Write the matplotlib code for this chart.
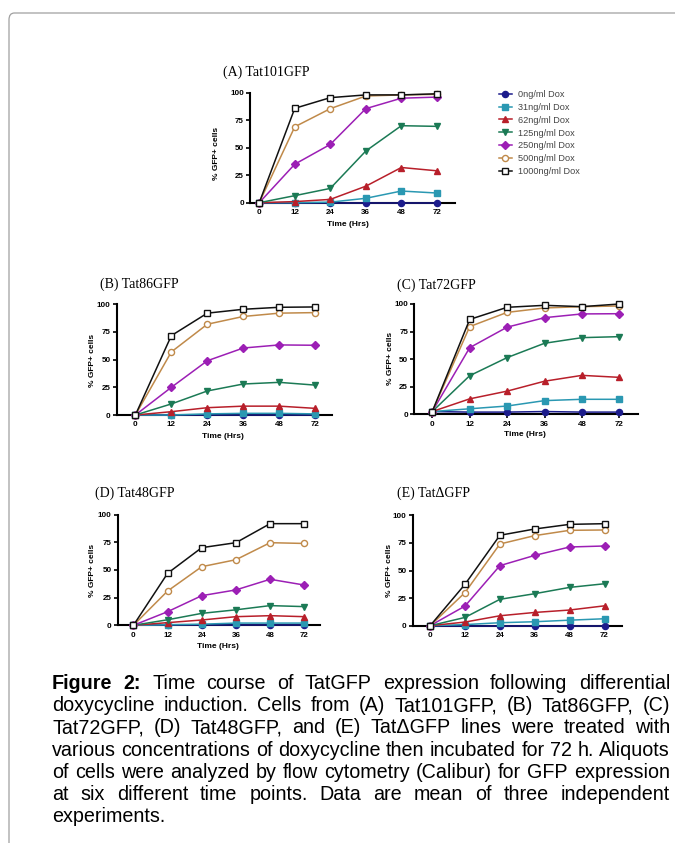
import matplotlib
matplotlib.use("Agg")
import matplotlib.pyplot as plt
from matplotlib.patches import FancyBboxPatch

matplotlib.rcParams['font.family'] = ['Liberation Sans', 'DejaVu Sans']

times = ["0", "12", "24", "36", "48", "72"]
doses = ["0ng/ml Dox", "31ng/ml Dox", "62ng/ml Dox", "125ng/ml Dox",
         "250ng/ml Dox", "500ng/ml Dox", "1000ng/ml Dox"]
colors = ['#1c1c8c', '#2a98b2', '#b81f2a', '#1b7a55', '#9c1fb5', '#c08a4a', '#111111']
markers = ['o', 's', '^', 'v', 'D', 'o', 's']
filled = [True, True, True, True, True, False, False]

# % GFP+ cells, one row per dose (0 .. 1000 ng/ml)
tat101 = [
    [0, 0, 0, 0, 0, 0],
    [0, 0, 0.5, 4, 10.6, 8.8],
    [0, 1, 3, 15, 32, 29],
    [0, 6.4, 13, 47, 70, 69.4],
    [0, 35, 53, 85.5, 95, 96],
    [0, 69, 85.5, 97, 98, 98.5],
    [0, 85.8, 95.5, 98, 98, 99],
]
tat86 = [
    [0, 0, 0, 0, 0, 0],
    [0, 0, 1, 1.5, 1.5, 1],
    [0, 3, 6.6, 8, 8, 6],
    [0, 10, 21.7, 28, 29.5, 27],
    [0, 25, 49, 60.5, 63.3, 63],
    [0, 57, 82, 89, 92, 92.5],
    [0, 71.7, 92, 95.5, 97.3, 97.6],
]
tat72 = [
    [2.5, 2, 2, 2.5, 2, 2],
    [2.5, 5, 7.5, 12.4, 13.6, 13.6],
    [2.5, 14, 21, 30, 35.3, 33.5],
    [2.5, 35, 51.4, 64.4, 69.5, 70.4],
    [2.5, 60.4, 79, 87.6, 91, 91.2],
    [2.5, 79.5, 92.4, 96.4, 97.6, 98.2],
    [2.5, 86, 97, 98.8, 97.6, 100],
]
tat48 = [
    [0, 0.3, 0.3, 0.3, 0.3, 0.3],
    [0, 0.5, 1, 2, 2, 2],
    [0, 2.4, 4.8, 7.8, 8.7, 7.8],
    [0, 5, 10.8, 14, 17.8, 16.9],
    [0, 12.3, 26.8, 32, 41.6, 36.4],
    [0, 31, 53, 59.3, 74.7, 74],
    [0, 47, 70.2, 74.7, 91.9, 91.9],
]
tat_delta = [
    [0, 0, 0, 0, 0, 0],
    [0, 1, 2.7, 3.6, 5, 6.3],
    [0, 3.3, 9, 12, 14.2, 18],
    [0, 7.5, 23.9, 29, 34.7, 38],
    [0, 17.8, 54.4, 63.7, 71.3, 72.2],
    [0, 30, 74, 81.6, 86.4, 86.7],
    [0, 37.5, 81.9, 87.6, 91.8, 92.4],
]

caption_lines = [
    "Figure 2: Time course of TatGFP expression following differential",
    "doxycycline induction. Cells from (A) Tat101GFP, (B) Tat86GFP, (C)",
    "Tat72GFP, (D) Tat48GFP, and (E) Tat\u0394GFP lines were treated with",
    "various concentrations of doxycycline then incubated for 72 h. Aliquots",
    "of cells were analyzed by flow cytometry (Calibur) for GFP expression",
    "at six different time points. Data are mean of three independent",
    "experiments.",
]

W, H = 675, 843
fig = plt.figure(figsize=(W / 100, H / 100), dpi=100)


def px_axes(left, top, right, bottom):
    return fig.add_axes([left / W, 1 - bottom / H, (right - left) / W, (bottom - top) / H])


def draw_panel(ax, data, xlim):
    x = list(range(len(times)))
    for i, row in enumerate(data):
        ms = 3.8 if markers[i] == 'D' else 4.4
        ax.plot(x, row, color=colors[i], marker=markers[i], ms=ms, lw=1.1,
                mfc=colors[i] if filled[i] else 'white', mec=colors[i], mew=1.0,
                clip_on=False, zorder=3 + i, label=doses[i])
    ax.set_xlim(*xlim)
    ax.set_ylim(0, 100)
    ax.set_xticks(x)
    ax.set_xticklabels(times)
    ax.set_yticks([0, 25, 50, 75, 100])
    ax.spines['right'].set_visible(False)
    ax.spines['top'].set_visible(False)
    ax.spines['left'].set_linewidth(1.5)
    ax.spines['bottom'].set_linewidth(1.5)
    ax.tick_params(direction='out', length=3, width=1.2, labelsize=5.8, pad=1.5)
    for lab in ax.get_xticklabels() + ax.get_yticklabels():
        lab.set_fontweight('bold')
    ax.set_facecolor('none')


def ftext(xp, yp, s, **kw):
    return fig.text(xp / W, 1 - yp / H, s, **kw)


# border of the page box
box = FancyBboxPatch((9 / W, -0.1), 1.2, 1 - 13 / H + 0.1, boxstyle="round,pad=0,rounding_size=0.008",
                     transform=fig.transFigure, fill=False, ec='#a0a0a0', lw=0.9)
fig.patches.append(box)

panels = [
    (tat101, (250, 92.7, 455, 202.7), (-0.26, 5.51), "(A) Tat101GFP", (223, 72), (217, 153), (348, 224)),
    (tat86, (116.7, 304.3, 331.7, 415), (-0.52, 5.46), "(B) Tat86GFP", (100, 284), (92, 360), (223, 436)),
    (tat72, (414.3, 304, 637.7, 414.3), (-0.48, 5.49), "(C) Tat72GFP", (397, 285), (391, 358), (525, 435)),
    (tat48, (117.7, 514.7, 320, 625.3), (-0.46, 5.46), "(D) Tat48GFP", (95, 493), (92, 570), (218, 646)),
    (tat_delta, (412.7, 515.3, 622.3, 625.7), (-0.5, 5.51), "(E) Tat\u0394GFP", (397, 493), (390, 570), None),
]

axes = []
for data, box_px, xlim, title, tpos, ypos, xpos in panels:
    ax = px_axes(*box_px)
    draw_panel(ax, data, xlim)
    axes.append(ax)
    ftext(tpos[0], tpos[1], title, family='Liberation Serif', fontsize=10, va='center', ha='left')
    ftext(ypos[0], ypos[1], '% GFP+ cells', fontsize=6, fontweight='bold', rotation=90,
          ha='center', va='center')
    if xpos is not None:
        ftext(xpos[0], xpos[1], 'Time (Hrs)', fontsize=6, fontweight='bold', ha='center', va='center')

handles, labels = axes[0].get_legend_handles_labels()
leg = fig.legend(handles, labels, loc='upper left', bbox_to_anchor=(499 / W, 1 - 90 / H),
                 frameon=False, fontsize=6.6, handlelength=1.4, handletextpad=0.7,
                 labelspacing=0.42, borderpad=0, borderaxespad=0)
for t in leg.get_texts():
    t.set_color('#444444')

# justified caption: font size fitted so the tightest line fills the column
left_px, right_px = 52, 670
renderer = fig.canvas.get_renderer()
probe = ftext(0, 0, caption_lines[3], fontsize=13)
cap_size = 13 * (right_px - left_px) / probe.get_window_extent(renderer).width * 0.995
probe.remove()

for li, line in enumerate(caption_lines):
    words = line.split(' ')
    base_y = 689 + li * 22.2
    objs = []
    for wi, w in enumerate(words):
        bold = li == 0 and wi < 2
        objs.append(ftext(0, base_y, w, fontsize=cap_size, va='baseline', ha='left',
                          fontweight='bold' if bold else 'normal'))
    widths = [o.get_window_extent(renderer).width for o in objs]
    if li < len(caption_lines) - 1:
        gap = (right_px - left_px - sum(widths)) / (len(words) - 1)
    else:
        gap = 0
    xcur = left_px
    for o, wd in zip(objs, widths):
        o.set_x(xcur / W)
        xcur += wd + gap

fig.savefig('out.png', dpi=100)
